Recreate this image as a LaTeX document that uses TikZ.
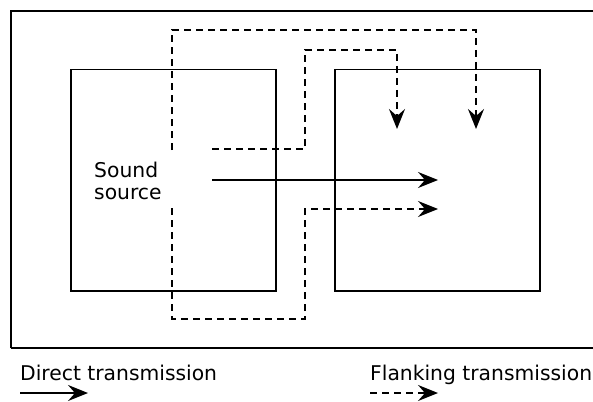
\documentclass[tikz,border=0pt]{standalone}
\usepackage{fontspec}
\setmainfont{DejaVu Sans}
\usetikzlibrary{arrows.meta}
\tikzset{
  frameline/.style={line width=1.5pt},
  flow/.style={line width=1.5pt, -{Stealth[length=20pt,width=16pt,inset=7pt]}},
  flank/.style={flow, dash pattern=on 7pt off 5pt},
  lbl/.style={font=\fontsize{20.3pt}{22pt}\selectfont, inner sep=0pt, anchor=base west},
  room/.style={draw, line width=1.5pt, minimum width=205pt, minimum height=221pt, inner sep=0pt, anchor=north west}
}
\begin{document}
\begin{tikzpicture}[x=1pt,y=-1pt]
\useasboundingbox (0,0) rectangle (593,401);
\clip (0,0) rectangle (593,401);
\fill[white] (0,0) rectangle (593,401);
\draw[frameline] (11,348) -- (11,11) -- (600,11);
\draw[frameline] (11,348) -- (600,348);
\node[room] (left) at (70,69) {};
\node[room] (right) at (334,69) {};
\node[lbl] (s1) at (94,177) {Sound};
\node[lbl] (s2) at (94,199) {source};
% named points
\coordinate (a0) at (212,149);
\coordinate (a1) at (305,149);
\coordinate (a2) at (305,50);
\coordinate (a3) at (397,50);
\coordinate (a4) at (397,129);
\coordinate (b0) at (172,150);
\coordinate (b1) at (172,30);
\coordinate (b2) at (476,30);
\coordinate (b3) at (476,129);
\coordinate (c0) at (172,208);
\coordinate (c1) at (172,319);
\coordinate (c2) at (305,319);
\coordinate (c3) at (305,209);
\coordinate (c4) at (438,209);
\coordinate (d0) at (212,180);
\coordinate (d1) at (438,180);
\draw[flank] (a0) -- (a1) -- (a2) -- (a3) -- (a4);
\draw[flank] (b0) -- (b1) -- (b2) -- (b3);
\draw[flank] (c0) -- (c1) -- (c2) -- (c3) -- (c4);
\draw[flow] (d0) -- (d1);
% legend
\node[lbl] (ld) at (20,380) {Direct transmission};
\node[lbl] (lf) at (370,380) {Flanking transmission};
\coordinate (e0) at (20,393);
\coordinate (e1) at (88,393);
\coordinate (f0) at (370,393);
\coordinate (f1) at (438,393);
\draw[flow] (e0) -- (e1);
\draw[flank] (f0) -- (f1);
\end{tikzpicture}
\end{document}
